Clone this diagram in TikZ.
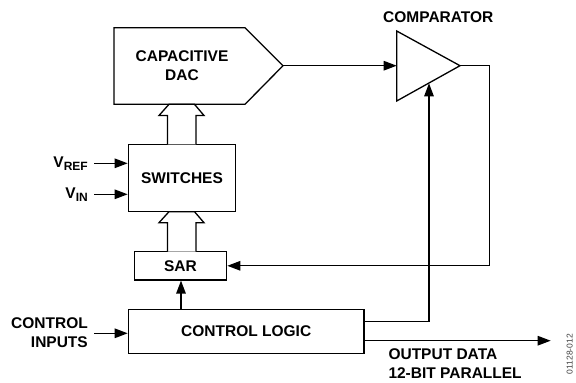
\documentclass[tikz,border=0pt]{standalone}
\usepackage{fontspec}
\setmainfont{Liberation Sans}
\usetikzlibrary{arrows.meta}
\begin{document}
\begin{tikzpicture}[x=1pt,y=-1pt,
  lw/.style={line width=1.3pt},
  box/.style={draw,lw,rectangle,inner sep=0pt,font=\lbl},
  arr/.style={lw,-{Triangle[length=13pt,width=9.5pt]}},
  txt/.style={inner sep=0pt,font=\lbl},
  hollow/.style={draw,lw,fill=white,line join=miter}]
\newcommand{\lbl}{\fontsize{15.5}{19}\selectfont\bfseries}
\newcommand{\subs}[1]{\raisebox{-3.5pt}{\fontsize{12}{12}\selectfont #1}}
\useasboundingbox (0,0) rectangle (576,383);
% capacitive DAC
\draw[lw] (114,27.7) -- (245,27.7) -- (283,65.7) -- (245,104.3) -- (114,104.3) -- cycle;
\coordinate (dactip) at (283,65.7);
\node[txt,align=center] (dac) at (182,66) {CAPACITIVE\\DAC};
% comparator
\draw[lw] (396.7,31) -- (460,65.7) -- (396.7,101) -- cycle;
\coordinate (cmpin) at (396.7,65.7);
\coordinate (cmpout) at (460,65.7);
\coordinate (cmpin2) at (429,83.3);
\node[txt] (cmptxt) at (438.3,17.3) {COMPARATOR};
% boxes
\node[box,minimum width=107.4pt,minimum height=67.4pt] (sw) at (182,178) {SWITCHES};
\node[box,minimum width=92.4pt,minimum height=28.3pt] (sar) at (180.5,265.8) {SAR};
\node[box,minimum width=235.7pt,minimum height=44pt] (ctl) at (246.2,331.3) {CONTROL LOGIC};
% hollow bus arrows
\draw[hollow] (167.5,144.3) -- (167.5,115.5) -- (159,115.5) -- (169,104.3) -- (194.5,104.3) -- (204,115.5) -- (196,115.5) -- (196,144.3);
\draw[hollow] (167.5,251.7) -- (167.5,222.7) -- (159,222.7) -- (169,211.7) -- (194.5,211.7) -- (204,222.7) -- (196,222.7) -- (196,251.7);
% inputs
\node[txt,anchor=east] (vref) at (88,163.5) {V\subs{REF}};
\node[txt,anchor=east] (vin) at (88,194.5) {V\subs{IN}};
\coordinate (vrefs) at (94,163.3);
\coordinate (vins) at (94,194.3);
\draw[arr] (vrefs) -- (vrefs -| sw.west);
\draw[arr] (vins) -- (vins -| sw.west);
\node[txt,align=right,anchor=east] (ci) at (88,332.2) {CONTROL\\INPUTS};
\coordinate (cis) at (94,333.3);
\draw[arr] (cis) -- (cis -| ctl.west);
% ctl -> sar
\draw[arr] (ctl.north -| 181,0) -- (sar.south -| 181,0);
% dac -> comparator
\draw[arr] (dactip) -- (cmpin);
% ctl -> comparator
\coordinate (c1) at (429,321.7);
\draw[arr] (ctl.east |- c1) -- (c1) -- (cmpin2);
% comparator -> sar
\coordinate (fb1) at (489.3,65.7);
\draw[arr] (cmpout) -- (fb1) -- (fb1 |- sar.east) -- (sar.east);
% output
\coordinate (outend) at (550.7,340.7);
\draw[arr] (ctl.east |- outend) -- (outend);
\node[txt,align=left,anchor=west] (out) at (388.3,363.3) {OUTPUT DATA\\12-BIT PARALLEL};
% figure code
\node[inner sep=0pt,rotate=90,text=black!75,font=\fontsize{8.5}{9}\selectfont,anchor=south] (code) at (573,354) {01128-012};
\end{tikzpicture}
\end{document}
